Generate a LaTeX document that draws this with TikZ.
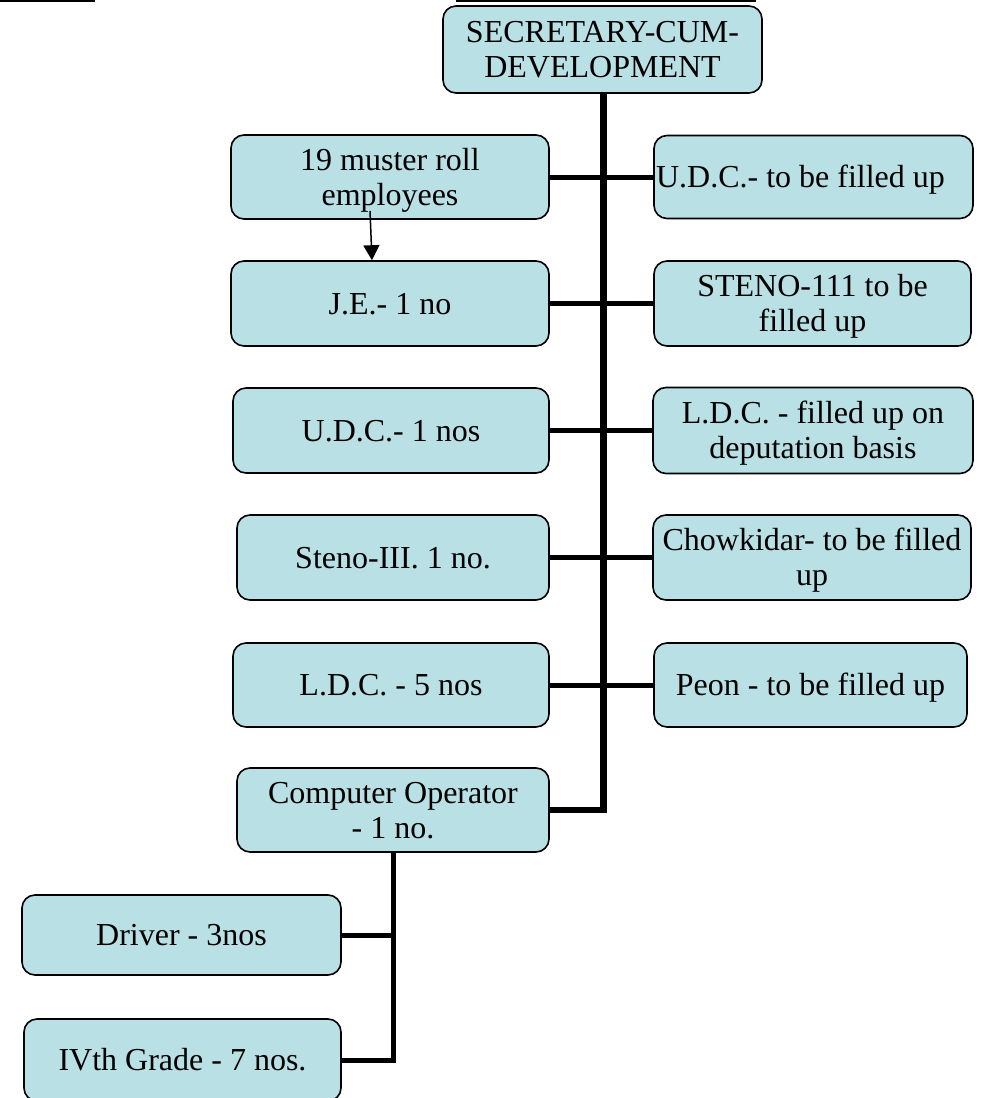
\documentclass[tikz,border=0pt]{standalone}
\usepackage{fontspec}
\setmainfont{Liberation Serif}
\usetikzlibrary{arrows.meta,calc}
\definecolor{boxfill}{RGB}{185,224,228}
% fixed line strut: keeps every text line at the same height and depth
\newcommand{\linestrut}{\rule[-7pt]{0pt}{35pt}}
\tikzset{
  post/.style={draw=black, line width=1.6pt, fill=boxfill, rounded corners=13pt,
    minimum width=318pt, minimum height=85pt, inner sep=0pt, align=center,
    font=\fontsize{32}{35}\selectfont},
  trunk/.style={line width=6.5pt},
  branch/.style={line width=5pt},
  pointer/.style={line width=1.5pt, -{Triangle[length=15pt,width=16pt]}},
  rule line/.style={line width=1.5pt}
}
\begin{document}
\begin{tikzpicture}[x=1pt,y=-1pt]
\useasboundingbox (0,0) rectangle (984,1098);
\clip (0,0) rectangle (984,1098);

% short rules along the top edge
\coordinate (ra) at (0,1);   \coordinate (rb) at (95,1);
\coordinate (rc) at (456,1); \coordinate (rd) at (756,1);
\draw[rule line] (ra) -- (rb);
\draw[rule line] (rc) -- (rd);

% head of the office
\node[post, minimum width=319pt, minimum height=87pt] (top) at (602.5,49.5)
  {\linestrut SECRETARY-CUM-\\\linestrut DEVELOPMENT};

% left column
\node[post, minimum height=84pt] (mr)  at (390,177)   {\linestrut 19 muster roll\\\linestrut employees};
\node[post] (je)  at (390,303.5) {\linestrut J.E.- 1 no};
\node[post, minimum width=316pt] (udc) at (391,430.5) {\linestrut U.D.C.- 1 nos};
\node[post, minimum width=312pt] (ste) at (393,557.5) {\linestrut Steno-III. 1 no.};
\node[post, minimum width=316pt, minimum height=84pt] (ldc) at (391,685) {\linestrut L.D.C. - 5 nos};
\node[post, minimum width=312pt, minimum height=84pt] (cop) at (393,810) {\linestrut Computer Operator\\\linestrut - 1 no.};

% right column
\node[post, minimum width=319pt, minimum height=83pt] (rudc) at (813.5,177)   {\linestrut U.D.C.- to be filled up\hspace*{26pt}};
\node[post, minimum width=317pt] (rste) at (812.5,303.5) {\linestrut STENO-111 to be\\\linestrut filled up};
\node[post, minimum width=320pt, minimum height=86pt] (rldc) at (813,430.5) {\linestrut L.D.C. - filled up on\\\linestrut deputation basis};
\node[post] (rcho) at (812,557.5) {\linestrut Chowkidar- to be filled\\\linestrut up};
\node[post, minimum width=313pt, minimum height=84pt] (rpeo) at (810.5,685) {\linestrut Peon - to be filled up};

% under the computer operator
\node[post, minimum width=319pt, minimum height=80pt] (drv) at (181.5,935) {\linestrut Driver - 3nos};
\node[post, minimum width=317pt, minimum height=82pt] (ivg) at (182.5,1060) {\linestrut IVth Grade - 7 nos.};

% main trunk from the head down to the computer operator
\draw[trunk] ([xshift=1pt]top.south) |- (cop.east);

% branches crossing the trunk
\draw[branch] (mr.east)  -- (rudc.west |- mr.east);
\draw[branch] (je.east)  -- (rste.west |- je.east);
\draw[branch] (udc.east) -- (rldc.west |- udc.east);
\draw[branch] (ste.east) -- (rcho.west |- ste.east);
\draw[branch] (ldc.east) -- (rpeo.west |- ldc.east);

% lower trunk
\draw[branch] (cop.south) |- (ivg.east);
\draw[branch] (drv.east) -- (cop.south |- drv.east);

% muster roll staff placed under the J.E.
\draw[pointer] ($(mr.south)+(-20,-9)$) -- ($(je.north)+(-18,0)$);
\end{tikzpicture}
\end{document}
